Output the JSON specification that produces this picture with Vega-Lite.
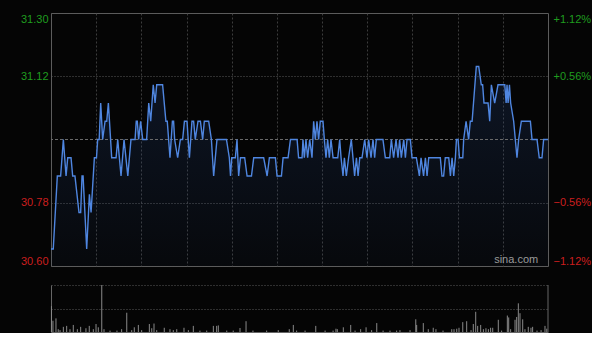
{
  "$schema": "https://vega.github.io/schema/vega-lite/v6.json",
  "background": "#050505",
  "padding": {"left": 19, "top": 12, "right": 0, "bottom": 0},
  "spacing": 17,
  "config": {
    "view": {"stroke": null},
    "axis": {"labelFont": "Liberation Sans", "labelFontSize": 11, "title": null}
  },
  "datasets": {
    "price": [
      {"m": 0, "p": 30.65}, {"m": 1.5, "p": 30.65}, {"m": 4.2, "p": 30.85}, {"m": 6.4, "p": 30.85},
      {"m": 8.2, "p": 30.95}, {"m": 10, "p": 30.85}, {"m": 11.1, "p": 30.9}, {"m": 13.3, "p": 30.9},
      {"m": 14.4, "p": 30.85}, {"m": 15.9, "p": 30.85}, {"m": 18.6, "p": 30.75}, {"m": 19.7, "p": 30.75},
      {"m": 20.6, "p": 30.85}, {"m": 21.3, "p": 30.85}, {"m": 23.7, "p": 30.65}, {"m": 25.5, "p": 30.8},
      {"m": 26.6, "p": 30.75}, {"m": 28.8, "p": 30.9}, {"m": 30.2, "p": 30.9}, {"m": 31, "p": 30.95},
      {"m": 32, "p": 30.95}, {"m": 33, "p": 31.05}, {"m": 34.3, "p": 30.95}, {"m": 35.9, "p": 31.0},
      {"m": 37, "p": 31.0}, {"m": 38.1, "p": 31.05}, {"m": 40.3, "p": 30.9}, {"m": 43.2, "p": 30.9},
      {"m": 44.3, "p": 30.95}, {"m": 46.5, "p": 30.85}, {"m": 48.5, "p": 30.95}, {"m": 51, "p": 30.85},
      {"m": 53.1, "p": 30.95}, {"m": 55.8, "p": 30.95}, {"m": 56.6, "p": 31.0}, {"m": 57.3, "p": 31.0},
      {"m": 58.2, "p": 30.95}, {"m": 59.5, "p": 31.0}, {"m": 60.9, "p": 30.95}, {"m": 63.5, "p": 30.95},
      {"m": 64.9, "p": 31.05}, {"m": 66.2, "p": 31.0}, {"m": 67.9, "p": 31.1}, {"m": 69.1, "p": 31.05},
      {"m": 70.2, "p": 31.1}, {"m": 74.1, "p": 31.1}, {"m": 76.3, "p": 31.0}, {"m": 77.2, "p": 31.0},
      {"m": 79, "p": 30.9}, {"m": 80.6, "p": 31.0}, {"m": 81.4, "p": 31.0}, {"m": 82.1, "p": 30.95},
      {"m": 84.1, "p": 30.9}, {"m": 85.9, "p": 30.95}, {"m": 87.4, "p": 30.95}, {"m": 88.6, "p": 31.0},
      {"m": 90.3, "p": 31.0}, {"m": 91.9, "p": 30.9}, {"m": 93.6, "p": 31.0}, {"m": 94.7, "p": 31.0},
      {"m": 95.8, "p": 30.95}, {"m": 97.6, "p": 31.0}, {"m": 99.2, "p": 31.0}, {"m": 100.7, "p": 30.95},
      {"m": 101.8, "p": 31.0}, {"m": 104.7, "p": 31.0}, {"m": 106.5, "p": 30.95}, {"m": 108, "p": 30.85},
      {"m": 110.2, "p": 30.95}, {"m": 116.5, "p": 30.95}, {"m": 118.4, "p": 30.9}, {"m": 119.2, "p": 30.85},
      {"m": 120, "p": 30.9}, {"m": 122.4, "p": 30.9}, {"m": 123.5, "p": 30.95}, {"m": 124.6, "p": 30.85},
      {"m": 125.8, "p": 30.9}, {"m": 128.6, "p": 30.9}, {"m": 130.2, "p": 30.85}, {"m": 133.1, "p": 30.85},
      {"m": 134.6, "p": 30.9}, {"m": 141.2, "p": 30.9}, {"m": 143.5, "p": 30.85}, {"m": 145, "p": 30.9},
      {"m": 149, "p": 30.9}, {"m": 150.1, "p": 30.85}, {"m": 153, "p": 30.85}, {"m": 154.1, "p": 30.9},
      {"m": 157.4, "p": 30.9}, {"m": 159, "p": 30.95}, {"m": 163.4, "p": 30.95}, {"m": 164.4, "p": 30.9},
      {"m": 166.7, "p": 30.9}, {"m": 167.3, "p": 30.95}, {"m": 168.2, "p": 30.9}, {"m": 169.3, "p": 30.95},
      {"m": 170.4, "p": 30.9}, {"m": 171.8, "p": 30.95}, {"m": 173.3, "p": 30.9}, {"m": 174.4, "p": 31.0},
      {"m": 175.5, "p": 30.95}, {"m": 176.6, "p": 31.0}, {"m": 177.7, "p": 30.95}, {"m": 178.8, "p": 31.0},
      {"m": 180.6, "p": 31.0}, {"m": 181.5, "p": 30.95}, {"m": 182.6, "p": 30.9}, {"m": 183.7, "p": 30.95},
      {"m": 184.8, "p": 30.9}, {"m": 185.9, "p": 30.95}, {"m": 187.3, "p": 30.9}, {"m": 190.4, "p": 30.9},
      {"m": 191.7, "p": 30.95}, {"m": 192.6, "p": 30.9}, {"m": 193.9, "p": 30.85}, {"m": 194.8, "p": 30.9},
      {"m": 196.1, "p": 30.85}, {"m": 197.6, "p": 30.9}, {"m": 199.4, "p": 30.95}, {"m": 200.5, "p": 30.9},
      {"m": 201.6, "p": 30.85}, {"m": 202.8, "p": 30.9}, {"m": 203.9, "p": 30.85}, {"m": 205, "p": 30.9},
      {"m": 206.5, "p": 30.9}, {"m": 208.3, "p": 30.95}, {"m": 209.8, "p": 30.9}, {"m": 210.9, "p": 30.95},
      {"m": 212.5, "p": 30.9}, {"m": 213.8, "p": 30.95}, {"m": 214.9, "p": 30.9}, {"m": 216, "p": 30.95},
      {"m": 220.4, "p": 30.95}, {"m": 222, "p": 30.9}, {"m": 224.9, "p": 30.9}, {"m": 226, "p": 30.95},
      {"m": 227.5, "p": 30.9}, {"m": 229.1, "p": 30.95}, {"m": 230.4, "p": 30.9}, {"m": 231.5, "p": 30.95},
      {"m": 232.6, "p": 30.9}, {"m": 234.2, "p": 30.95}, {"m": 235.3, "p": 30.9}, {"m": 236.4, "p": 30.95},
      {"m": 238.6, "p": 30.95}, {"m": 239.7, "p": 30.9}, {"m": 242.6, "p": 30.9}, {"m": 244.6, "p": 30.85},
      {"m": 245.7, "p": 30.9}, {"m": 247.4, "p": 30.85}, {"m": 248.6, "p": 30.9}, {"m": 249.7, "p": 30.85},
      {"m": 250.8, "p": 30.9}, {"m": 258.5, "p": 30.9}, {"m": 259.6, "p": 30.85}, {"m": 260.7, "p": 30.85},
      {"m": 261.8, "p": 30.9}, {"m": 264.1, "p": 30.9}, {"m": 265.2, "p": 30.85}, {"m": 266.3, "p": 30.9},
      {"m": 267.4, "p": 30.85}, {"m": 268.5, "p": 30.9}, {"m": 269.2, "p": 30.95}, {"m": 270.3, "p": 30.95},
      {"m": 271.2, "p": 30.9}, {"m": 273.4, "p": 30.9}, {"m": 274, "p": 30.95}, {"m": 275.6, "p": 31.0},
      {"m": 277.3, "p": 30.95}, {"m": 278.4, "p": 31.0}, {"m": 279.6, "p": 31.0}, {"m": 282.4, "p": 31.15},
      {"m": 284, "p": 31.15}, {"m": 285.7, "p": 31.1}, {"m": 286.6, "p": 31.1}, {"m": 287.5, "p": 31.05},
      {"m": 290.2, "p": 31.05}, {"m": 291.3, "p": 31.0}, {"m": 292.4, "p": 31.1}, {"m": 294.6, "p": 31.05},
      {"m": 296.8, "p": 31.1}, {"m": 301.3, "p": 31.1}, {"m": 302.2, "p": 31.05}, {"m": 302.8, "p": 31.1},
      {"m": 303.5, "p": 31.05}, {"m": 304.4, "p": 31.1}, {"m": 305.2, "p": 31.05}, {"m": 307.2, "p": 31.0},
      {"m": 309.4, "p": 30.9}, {"m": 310.5, "p": 30.95}, {"m": 312.3, "p": 31.0}, {"m": 318.3, "p": 31.0},
      {"m": 319.4, "p": 30.95}, {"m": 322.7, "p": 30.95}, {"m": 324.2, "p": 30.9}, {"m": 326, "p": 30.9},
      {"m": 327.1, "p": 30.95}, {"m": 330, "p": 30.95}
    ],
    "vol": [
      {"m": 0.3, "v": 0.55}, {"m": 1.3, "v": 0.24}, {"m": 3.3, "v": 0.29}, {"m": 4.8, "v": 0.06},
      {"m": 6, "v": 0.04}, {"m": 8.2, "v": 0.11}, {"m": 10.4, "v": 0.13}, {"m": 12.6, "v": 0.06},
      {"m": 14.8, "v": 0.15}, {"m": 17.5, "v": 0.06}, {"m": 19.7, "v": 0.11}, {"m": 23.2, "v": 0.08},
      {"m": 25.4, "v": 0.13}, {"m": 28.1, "v": 0.06}, {"m": 29.9, "v": 0.17}, {"m": 31.4, "v": 0.1},
      {"m": 33.7, "v": 1.0}, {"m": 35.2, "v": 0.06}, {"m": 39.2, "v": 0.03}, {"m": 43.8, "v": 0.03},
      {"m": 46.9, "v": 0.06}, {"m": 50.3, "v": 0.41}, {"m": 53.6, "v": 0.04}, {"m": 55.3, "v": 0.1},
      {"m": 58, "v": 0.15}, {"m": 60.2, "v": 0.04}, {"m": 65.3, "v": 0.17}, {"m": 66.9, "v": 0.08},
      {"m": 68.4, "v": 0.18}, {"m": 70.2, "v": 0.04}, {"m": 75.2, "v": 0.09}, {"m": 79, "v": 0.06},
      {"m": 81.2, "v": 0.04}, {"m": 83.5, "v": 0.06}, {"m": 88.3, "v": 0.09}, {"m": 91.2, "v": 0.04},
      {"m": 94.5, "v": 0.13}, {"m": 98.9, "v": 0.03}, {"m": 103.4, "v": 0.03}, {"m": 107.8, "v": 0.13},
      {"m": 110, "v": 0.13}, {"m": 111.1, "v": 0.14}, {"m": 116.7, "v": 0.03}, {"m": 121, "v": 0.03},
      {"m": 125.5, "v": 0.085}, {"m": 129.5, "v": 0.23}, {"m": 134.1, "v": 0.03}, {"m": 143.2, "v": 0.03},
      {"m": 150.9, "v": 0.04}, {"m": 158.2, "v": 0.06}, {"m": 160.9, "v": 0.15}, {"m": 163.1, "v": 0.03},
      {"m": 168.7, "v": 0.03}, {"m": 175.8, "v": 0.13}, {"m": 182, "v": 0.03}, {"m": 187.3, "v": 0.03},
      {"m": 189.2, "v": 0.07}, {"m": 190.1, "v": 0.06}, {"m": 194.1, "v": 0.1}, {"m": 199, "v": 0.15},
      {"m": 201.9, "v": 0.03}, {"m": 205.6, "v": 0.06}, {"m": 209.2, "v": 0.1}, {"m": 212.9, "v": 0.04},
      {"m": 216.3, "v": 0.19}, {"m": 220.5, "v": 0.03}, {"m": 225.1, "v": 0.03}, {"m": 229.5, "v": 0.03},
      {"m": 231.7, "v": 0.04}, {"m": 238.4, "v": 0.04}, {"m": 242.2, "v": 0.27}, {"m": 242.8, "v": 0.15},
      {"m": 247.2, "v": 0.19}, {"m": 250.5, "v": 0.06}, {"m": 253.8, "v": 0.09}, {"m": 255.6, "v": 0.06},
      {"m": 260.3, "v": 0.03}, {"m": 266.1, "v": 0.06}, {"m": 267.6, "v": 0.06}, {"m": 269.4, "v": 0.07},
      {"m": 270.9, "v": 0.09}, {"m": 273.4, "v": 0.21}, {"m": 276, "v": 0.23}, {"m": 278.9, "v": 0.04},
      {"m": 280.4, "v": 0.17}, {"m": 282, "v": 0.43}, {"m": 283.3, "v": 0.13}, {"m": 285.3, "v": 0.15},
      {"m": 287.1, "v": 0.06}, {"m": 288.8, "v": 0.08}, {"m": 290.4, "v": 0.06}, {"m": 291.9, "v": 0.09},
      {"m": 293.3, "v": 0.09}, {"m": 297, "v": 0.26}, {"m": 299.2, "v": 0.03}, {"m": 303, "v": 0.35},
      {"m": 303.9, "v": 0.31}, {"m": 305.2, "v": 0.06}, {"m": 308.1, "v": 0.26}, {"m": 309.2, "v": 0.32},
      {"m": 310.3, "v": 0.61}, {"m": 311.4, "v": 0.4}, {"m": 313.2, "v": 0.27}, {"m": 314.7, "v": 0.06},
      {"m": 316.9, "v": 0.11}, {"m": 318.7, "v": 0.09}, {"m": 319.8, "v": 0.11}, {"m": 322.7, "v": 0.03},
      {"m": 325.4, "v": 0.04}, {"m": 328, "v": 0.13}, {"m": 329.2, "v": 0.07}
    ]
  },
  "vconcat": [
    {
      "width": 497,
      "height": 253,
      "view": {"stroke": "#5c5c5c", "strokeWidth": 1},
      "resolve": {"axis": {"x": "independent", "y": "independent"}},
      "layer": [
        {
          "data": {"name": "price"},
          "mark": {
            "type": "area",
            "interpolate": "linear",
            "color": {
              "gradient": "linear", "x1": 0, "y1": 0, "x2": 0, "y2": 1,
              "stops": [
                {"offset": 0, "color": "rgba(40,75,140,0.24)"},
                {"offset": 1, "color": "rgba(40,75,140,0.05)"}
              ]
            }
          },
          "encoding": {
            "x": {
              "field": "m", "type": "quantitative",
              "scale": {"domain": [0, 330], "nice": false, "zero": false},
              "axis": {
                "values": [30, 60, 90, 120, 150, 180, 210, 240, 270, 300],
                "grid": true, "gridColor": "#3c3c3c", "gridDash": [2, 2],
                "labels": false, "ticks": false, "domain": false
              }
            },
            "y": {
              "field": "p", "type": "quantitative",
              "scale": {"domain": [30.6034, 31.2966], "nice": false, "zero": false},
              "axis": {
                "orient": "left",
                "values": [30.6034, 30.7767, 31.1233, 31.2966],
                "labelExpr": "format(datum.value, '.2f')",
                "labelColor": {"condition": {"test": "datum.value > 30.95", "value": "#1f9c1f"}, "value": "#cc1f1f"},
                "labelFlush": true,
                "labelPadding": 3,
                "domain": false, "ticks": false,
                "grid": true, "gridColor": "#5a5a5a", "gridDash": [1, 2]
              }
            },
            "y2": {"datum": 30.6034}
          }
        },
        {
          "data": {"values": [{}]},
          "mark": {"type": "rule", "color": "#6a6a6a", "strokeDash": [3, 2], "strokeWidth": 1},
          "encoding": {"y": {"datum": 30.95, "axis": null}}
        },
        {
          "data": {"name": "price"},
          "mark": {"type": "line", "color": "#4f86e0", "strokeWidth": 1.4, "interpolate": "linear"},
          "encoding": {
            "x": {"field": "m", "type": "quantitative", "axis": null},
            "y": {
              "field": "p", "type": "quantitative",
              "axis": {
                "orient": "right",
                "values": [30.6034, 30.7767, 31.1233, 31.2966],
                "labelExpr": "(datum.value > 30.95 ? '+' : '') + format((datum.value / 30.95 - 1) * 100, '.2f') + '%'",
                "labelColor": {"condition": {"test": "datum.value > 30.95", "value": "#1f9c1f"}, "value": "#cc1f1f"},
                "labelFlush": true,
                "labelPadding": 5,
                "domain": false, "ticks": false, "grid": false
              }
            }
          }
        },
        {
          "data": {"values": [{}]},
          "mark": {"type": "text", "align": "right", "baseline": "alphabetic", "dy": -3, "color": "#9a9a9a", "fontSize": 11, "font": "Liberation Sans"},
          "encoding": {
            "x": {"datum": 323.5, "axis": null},
            "y": {"datum": 30.6034, "axis": null},
            "text": {"value": "sina.com"}
          }
        }
      ]
    },
    {
      "width": 497,
      "height": 47,
      "resolve": {"axis": {"x": "independent", "y": "independent"}},
      "layer": [
        {
          "data": {"name": "vol"},
          "mark": {"type": "rule", "color": "#8a8a8a", "strokeWidth": 1},
          "encoding": {
            "x": {
              "field": "m", "type": "quantitative",
              "scale": {"domain": [0, 330], "nice": false, "zero": false},
              "axis": {"labels": false, "ticks": false, "grid": false, "domain": true, "domainColor": "#666666"}
            },
            "y": {
              "field": "v", "type": "quantitative",
              "scale": {"domain": [0, 1], "nice": false},
              "axis": {
                "values": [0.5, 1], "labels": false, "ticks": false,
                "grid": true, "gridColor": "#5a5a5a", "gridDash": [1, 2],
                "domain": true, "domainColor": "#666666"
              }
            },
            "y2": {"datum": 0}
          }
        },
        {
          "data": {"values": [{}]},
          "mark": {"type": "rule", "color": "#666666", "strokeWidth": 1},
          "encoding": {"x": {"datum": 330, "axis": null}}
        }
      ]
    }
  ]
}
